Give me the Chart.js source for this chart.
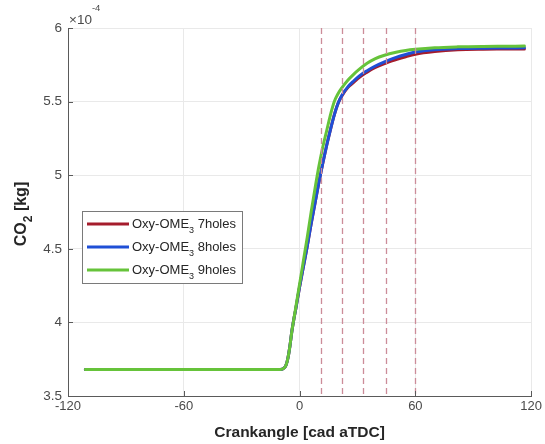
<!DOCTYPE html>
<html>
<head>
<meta charset="utf-8">
<title>CO2 vs crank angle</title>
<script src="https://cdn.jsdelivr.net/npm/chart.js@4.4.1/dist/chart.umd.min.js"></script>
<style>
  html, body { margin: 0; padding: 0; background: #ffffff; }
  #wrap { width: 545px; height: 444px; }
</style>
</head>
<body>
<div id="wrap"><canvas id="co2" width="545" height="444"></canvas></div>
<script>
// Crank angle samples [cad aTDC]
const crankAngle = [-111, -20, -10, -8, -7, -6, -5, -4, -3, -2, 0, 2, 4, 6, 8, 10, 12, 14, 16, 18, 20, 22, 25, 28, 31, 35, 39, 44, 50, 55, 60, 70, 82, 95, 105, 116.5];

// Cumulative CO2 mass, in units of 1e-4 kg
const co2Holes7 = [3.68, 3.68, 3.68, 3.69, 3.71, 3.76, 3.84, 3.94, 4.02, 4.09, 4.24, 4.38, 4.52, 4.67, 4.81, 4.95, 5.08, 5.20, 5.31, 5.41, 5.49, 5.54, 5.595, 5.63, 5.665, 5.70, 5.73, 5.758, 5.785, 5.805, 5.822, 5.84, 5.852, 5.856, 5.857, 5.858];
const co2Holes8 = [3.68, 3.68, 3.68, 3.69, 3.71, 3.76, 3.84, 3.94, 4.02, 4.09, 4.24, 4.38, 4.52, 4.67, 4.81, 4.95, 5.08, 5.20, 5.31, 5.41, 5.49, 5.545, 5.60, 5.64, 5.675, 5.71, 5.74, 5.77, 5.80, 5.82, 5.837, 5.853, 5.860, 5.863, 5.864, 5.865];
const co2Holes9 = [3.68, 3.68, 3.68, 3.69, 3.71, 3.76, 3.84, 3.94, 4.02, 4.10, 4.26, 4.42, 4.58, 4.75, 4.91, 5.06, 5.19, 5.30, 5.41, 5.50, 5.555, 5.595, 5.645, 5.685, 5.72, 5.76, 5.79, 5.815, 5.835, 5.847, 5.855, 5.866, 5.872, 5.875, 5.876, 5.877];

// Series labels: [main text, subscript, trailing text]
const seriesNames = [
  ['Oxy-OME', '3', ' 7holes'],
  ['Oxy-OME', '3', ' 8holes'],
  ['Oxy-OME', '3', ' 9holes']
];
const seriesColors = ['#a51c2c', '#1f4fd6', '#66c33a'];

// Reference crank angles marked with dashed lines
const markerAngles = [11, 22, 33, 45, 60];

// Axis ticks
const xTicks = [-120, -60, 0, 60, 120];
const yTicks = [3.5, 4, 4.5, 5, 5.5, 6];

const FONT = '"Liberation Sans", Arial, Helvetica, sans-serif';
const TICK_COLOR = '#4a4a4a';

function toPoints(ys) {
  return crankAngle.map((x, i) => ({ x: x, y: ys[i] }));
}

const seriesValues = [co2Holes7, co2Holes8, co2Holes9];
const datasets = seriesValues.map((ys, i) => ({
  label: seriesNames[i].join(''),
  data: toPoints(ys),
  borderColor: seriesColors[i],
  backgroundColor: seriesColors[i],
  borderWidth: 3,
  pointRadius: 0,
  fill: false,
  // later series are plotted on top of earlier ones
  order: seriesValues.length - i,
  cubicInterpolationMode: 'monotone',
  borderCapStyle: 'round',
  borderJoinStyle: 'round'
}));

// Draws a text run with a subscript part; returns the end x
function drawSubText(ctx, x, y, parts, size, bold) {
  const w = bold ? 'bold ' : '';
  ctx.font = w + size + 'px ' + FONT;
  ctx.fillText(parts[0], x, y);
  let cx = x + ctx.measureText(parts[0]).width;
  ctx.font = w + Math.round(size * 0.72) + 'px ' + FONT;
  ctx.fillText(parts[1], cx, y + size * 0.35);
  cx += ctx.measureText(parts[1]).width;
  ctx.font = w + size + 'px ' + FONT;
  ctx.fillText(parts[2], cx, y);
  cx += ctx.measureText(parts[2]).width;
  return cx;
}

function measureSubText(ctx, parts, size, bold) {
  const w = bold ? 'bold ' : '';
  ctx.font = w + size + 'px ' + FONT;
  let t = ctx.measureText(parts[0]).width + ctx.measureText(parts[2]).width;
  ctx.font = w + Math.round(size * 0.72) + 'px ' + FONT;
  t += ctx.measureText(parts[1]).width;
  return t;
}

const decorations = {
  id: 'decorations',
  afterDatasetsDraw(chart) {
    const ctx = chart.ctx;
    const area = chart.chartArea;
    const xs = chart.scales.x;

    // dashed reference lines
    ctx.save();
    ctx.strokeStyle = '#cc8c99';
    ctx.lineWidth = 1.3;
    ctx.setLineDash([6, 4]);
    markerAngles.forEach(a => {
      const px = Math.round(xs.getPixelForValue(a)) + 0.5;
      ctx.beginPath();
      ctx.moveTo(px, area.top);
      ctx.lineTo(px, area.bottom);
      ctx.stroke();
    });
    ctx.restore();
  },
  afterDraw(chart) {
    const ctx = chart.ctx;
    const area = chart.chartArea;
    const xs = chart.scales.x;
    const ys = chart.scales.y;

    // inward tick marks
    ctx.save();
    ctx.strokeStyle = '#5a5a5a';
    ctx.lineWidth = 1;
    xTicks.forEach(v => {
      const px = Math.round(xs.getPixelForValue(v)) + 0.5;
      ctx.beginPath();
      ctx.moveTo(px, area.bottom);
      ctx.lineTo(px, area.bottom - 5);
      ctx.stroke();
    });
    yTicks.forEach(v => {
      const py = Math.round(ys.getPixelForValue(v)) + 0.5;
      ctx.beginPath();
      ctx.moveTo(area.left, py);
      ctx.lineTo(area.left + 5, py);
      ctx.stroke();
    });
    ctx.restore();

    // exponent label above the y axis
    ctx.save();
    ctx.fillStyle = TICK_COLOR;
    ctx.textBaseline = 'alphabetic';
    ctx.textAlign = 'left';
    ctx.font = '13.5px ' + FONT;
    const ex = area.left + 1;
    const ey = 24;
    ctx.fillText('\u00d710', ex, ey);
    const exw = ctx.measureText('\u00d710').width;
    ctx.font = '9.5px ' + FONT;
    ctx.fillText('-4', ex + exw, 11);
    ctx.restore();

    // axis titles
    ctx.save();
    ctx.fillStyle = '#262626';
    ctx.textBaseline = 'alphabetic';
    ctx.textAlign = 'center';
    ctx.font = 'bold 15.5px ' + FONT;
    ctx.fillText('Crankangle [cad aTDC]', (area.left + area.right) / 2, 437);

    const yParts = ['CO', '2', ' [kg]'];
    const ySize = 16;
    const tw = measureSubText(ctx, yParts, ySize, true);
    ctx.translate(26, 214);
    ctx.rotate(-Math.PI / 2);
    ctx.textAlign = 'left';
    drawSubText(ctx, -tw / 2, 0, yParts, ySize, true);
    ctx.restore();

    // legend box
    ctx.save();
    const lx = 82.5, ly = 211.5, lw = 160, lh = 72;
    ctx.fillStyle = '#ffffff';
    ctx.fillRect(lx, ly, lw, lh);
    ctx.strokeStyle = '#7a7a7a';
    ctx.lineWidth = 1;
    ctx.strokeRect(lx, ly, lw, lh);
    const rows = [224, 247, 270];
    chart.data.datasets.forEach((ds, i) => {
      const y = rows[i];
      ctx.strokeStyle = ds.borderColor;
      ctx.lineWidth = 3;
      ctx.beginPath();
      ctx.moveTo(87, y);
      ctx.lineTo(129, y);
      ctx.stroke();
      ctx.fillStyle = '#262626';
      ctx.textAlign = 'left';
      ctx.textBaseline = 'alphabetic';
      drawSubText(ctx, 132, y + 4, seriesNames[i], 13, false);
    });
    ctx.restore();
  }
};

new Chart(document.getElementById('co2'), {
  type: 'line',
  data: { datasets: datasets },
  options: {
    responsive: false,
    animation: false,
    devicePixelRatio: 1,
    layout: { padding: { top: 28, right: 12, left: 0, bottom: 0 } },
    plugins: {
      legend: { display: false },
      tooltip: { enabled: false },
      title: { display: false }
    },
    scales: {
      x: {
        type: 'linear',
        min: -120,
        max: 120,
        afterFit(scale) { scale.height = 48; },
        afterBuildTicks(scale) { scale.ticks = xTicks.map(v => ({ value: v })); },
        ticks: {
          color: TICK_COLOR,
          font: { family: FONT, size: 13 },
          padding: 3,
          maxRotation: 0,
          callback: v => String(v)
        },
        grid: { color: '#e9e9e9', lineWidth: 1, drawTicks: false },
        border: { display: true, color: '#5a5a5a', width: 1 }
      },
      y: {
        type: 'linear',
        min: 3.5,
        max: 6,
        afterFit(scale) { scale.width = 68; },
        afterBuildTicks(scale) { scale.ticks = yTicks.map(v => ({ value: v })); },
        ticks: {
          color: TICK_COLOR,
          font: { family: FONT, size: 13.5 },
          padding: 6,
          callback: v => String(v)
        },
        grid: { color: '#e9e9e9', lineWidth: 1, drawTicks: false },
        border: { display: true, color: '#5a5a5a', width: 1 }
      }
    }
  },
  plugins: [decorations]
});
</script>
</body>
</html>
